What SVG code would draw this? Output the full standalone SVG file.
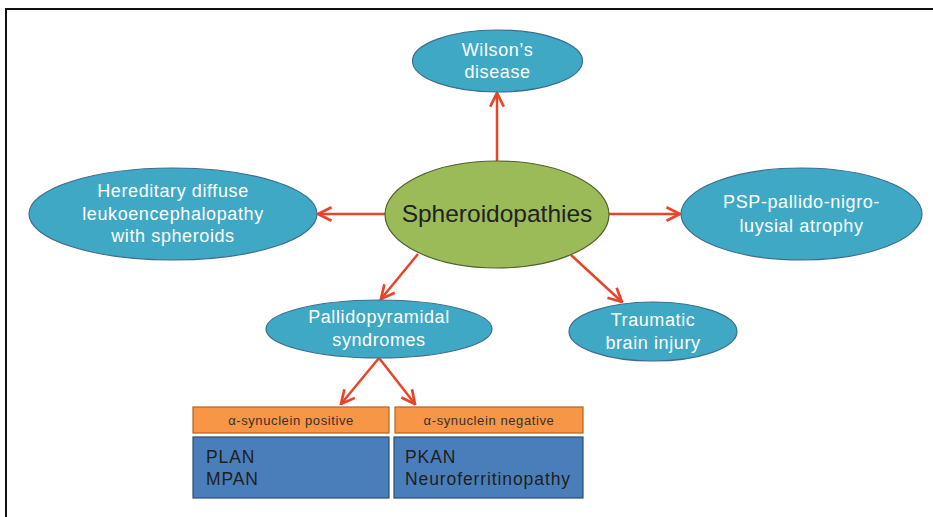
<svg xmlns="http://www.w3.org/2000/svg" width="933" height="517" viewBox="0 0 933 517">
<style>
.teal{fill:#3FA9C5;stroke:#3D6D8F;stroke-width:1.2}
.green{fill:#9BBB59;stroke:#4F6228;stroke-width:1.2}
.orange{fill:#F79646;stroke:#B6631F;stroke-width:1.2}
.blue{fill:#4A7EBB;stroke:#2C4D75;stroke-width:1.2}
.wt{fill:#FFFFFF;font-family:"Liberation Sans",Arial,sans-serif;font-size:18px;text-anchor:middle;letter-spacing:0.6px}
.ct{fill:#222222;font-family:"Liberation Sans",Arial,sans-serif;font-size:24.5px;text-anchor:middle}
.ot{fill:#333333;font-family:"Liberation Sans",Arial,sans-serif;font-size:13px;text-anchor:middle;letter-spacing:0.6px}
.bt{fill:#1E1E1E;font-family:"Liberation Sans",Arial,sans-serif;font-size:17.5px;letter-spacing:0.9px}
.conn{stroke:#E8442A;stroke-width:2.5;fill:none}
</style>
<defs>
<marker id="ah" viewBox="0 0 12 12" refX="11" refY="6" markerWidth="6.5" markerHeight="6.5" markerUnits="strokeWidth" orient="auto">
<path d="M1,1 L11,6 L1,11" fill="none" stroke="#E8442A" stroke-width="2"/>
</marker>
</defs>
<rect x="0" y="0" width="933" height="517" fill="#FFFFFF"/>
<path d="M6,517 L6,9 L933,9" fill="none" stroke="#111111" stroke-width="2"/>
<g id="connectors">
<line class="conn" x1="497" y1="161" x2="497" y2="93" marker-end="url(#ah)"/>
<line class="conn" x1="385" y1="214" x2="318" y2="214" marker-end="url(#ah)"/>
<line class="conn" x1="609" y1="214" x2="680" y2="214" marker-end="url(#ah)"/>
<line class="conn" x1="418" y1="254" x2="381" y2="299" marker-end="url(#ah)"/>
<line class="conn" x1="571" y1="255" x2="622" y2="302" marker-end="url(#ah)"/>
<line class="conn" x1="379" y1="358" x2="341" y2="404" marker-end="url(#ah)"/>
<line class="conn" x1="379" y1="358" x2="415" y2="404" marker-end="url(#ah)"/>
</g>
<g id="wilson">
<ellipse class="teal" cx="497.5" cy="61" rx="85" ry="31"/>
<text class="wt" x="497.5" y="56">Wilson’s</text>
<text class="wt" x="497.5" y="78">disease</text>
</g>
<g id="hereditary">
<ellipse class="teal" cx="173" cy="214" rx="144" ry="46"/>
<text class="wt" x="173" y="197">Hereditary diffuse</text>
<text class="wt" x="173" y="220">leukoencephalopathy</text>
<text class="wt" x="173" y="242">with spheroids</text>
</g>
<g id="spheroidopathies">
<ellipse class="green" cx="497" cy="214.5" rx="112" ry="53.5"/>
<text class="ct" x="497" y="222">Spheroidopathies</text>
</g>
<g id="psp">
<ellipse class="teal" cx="801.5" cy="214" rx="120.5" ry="46"/>
<text class="wt" x="801.5" y="208">PSP-pallido-nigro-</text>
<text class="wt" x="801.5" y="232">luysial atrophy</text>
</g>
<g id="pallidopyramidal">
<ellipse class="teal" cx="379" cy="329" rx="113" ry="29"/>
<text class="wt" x="379" y="323">Pallidopyramidal</text>
<text class="wt" x="379" y="346">syndromes</text>
</g>
<g id="traumatic">
<ellipse class="teal" cx="653" cy="331.5" rx="84" ry="29.5"/>
<text class="wt" x="653" y="326">Traumatic</text>
<text class="wt" x="653" y="349">brain injury</text>
</g>
<g id="syn-positive">
<rect class="orange" x="193" y="407" width="196" height="26"/>
<text class="ot" x="291" y="424.5">α-synuclein positive</text>
</g>
<g id="syn-negative">
<rect class="orange" x="395" y="407" width="188" height="26"/>
<text class="ot" x="489" y="424.5">α-synuclein negative</text>
</g>
<g id="plan-mpan">
<rect class="blue" x="193" y="437" width="196" height="61"/>
<text class="bt" x="206" y="463">PLAN</text>
<text class="bt" x="206" y="485">MPAN</text>
</g>
<g id="pkan">
<rect class="blue" x="394" y="437" width="189" height="61"/>
<text class="bt" x="405" y="463">PKAN</text>
<text class="bt" x="405" y="485">Neuroferritinopathy</text>
</g>
</svg>
